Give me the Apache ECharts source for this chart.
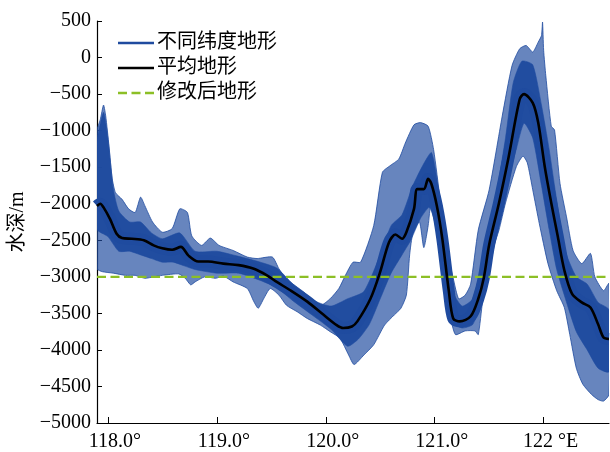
<!DOCTYPE html>
<html>
<head>
<meta charset="utf-8">
<script src="https://cdn.jsdelivr.net/npm/echarts@6/dist/echarts.min.js"></script>
<style>
  html, body { margin: 0; padding: 0; background: #fff; }
  #chart { width: 610px; height: 452px; }
</style>
</head>
<body>
<div id="chart"></div>
<script>
// 经度范围与刻度
var lonMin = 117.9;
var lonMax = 122.6;
var lonTicks = [118, 119, 120, 121, 122];

// 不同纬度地形的上包络 [经度, 水深]
var depthUpper = [
  [117.9, -1000], [117.93, -850], [117.96, -650], [117.98, -800], [118.01, -1210],
  [118.04, -1660], [118.07, -1850], [118.13, -1940], [118.19, -2070], [118.25, -2120],
  [118.3, -1910], [118.34, -2030], [118.41, -2250], [118.5, -2390], [118.59, -2340],
  [118.66, -2070], [118.73, -2120], [118.77, -2440], [118.86, -2570], [118.94, -2470],
  [119.02, -2570], [119.15, -2640], [119.28, -2730], [119.37, -2750], [119.51, -2730],
  [119.57, -2890], [119.64, -3030], [119.8, -3210], [119.95, -3390], [120.04, -3300],
  [120.12, -3160], [120.18, -2980], [120.25, -2800], [120.32, -2800], [120.44, -2300],
  [120.52, -1570], [120.59, -1480], [120.67, -1390], [120.73, -1170], [120.81, -920],
  [120.87, -890], [120.94, -940], [120.99, -1260], [121.05, -1940], [121.11, -2620],
  [121.17, -3020], [121.22, -3300], [121.28, -3250], [121.33, -3100], [121.4, -2360],
  [121.5, -1810], [121.62, -800], [121.71, -110], [121.78, 120], [121.84, 165],
  [121.9, 75], [121.95, 210], [121.98, 300], [121.99, 485], [122.0, 100],
  [122.02, -250], [122.07, -940], [122.1, -990], [122.15, -1720], [122.21, -2180],
  [122.27, -2640], [122.35, -2820], [122.43, -2680], [122.47, -3000], [122.55, -3190],
  [122.6, -3090]
];

// 不同纬度地形的下包络
var depthLower = [
  [117.9, -2890], [117.95, -2930], [118.05, -2950], [118.16, -2980], [118.25, -2980],
  [118.34, -3020], [118.42, -3000], [118.5, -2980], [118.65, -2960], [118.71, -3020],
  [118.76, -3110], [118.8, -3070], [118.89, -3000], [118.99, -3020], [119.06, -2990],
  [119.15, -3070], [119.28, -3160], [119.34, -3340], [119.38, -3430], [119.43, -3300],
  [119.49, -3160], [119.57, -3250], [119.64, -3390], [119.74, -3480], [119.83, -3570],
  [119.95, -3660], [120.04, -3750], [120.13, -3840], [120.21, -4070], [120.26, -4200],
  [120.35, -4070], [120.44, -3930], [120.54, -3660], [120.63, -3520], [120.69, -3430],
  [120.74, -3250], [120.77, -2700], [120.8, -2400], [120.86, -2250], [120.9, -2600],
  [120.94, -2300], [120.97, -1950], [121.03, -2320], [121.1, -3010], [121.14, -3510],
  [121.19, -3790], [121.28, -3740], [121.37, -3740], [121.4, -3790], [121.44, -3330],
  [121.47, -3090], [121.53, -2640], [121.59, -2360], [121.65, -1990], [121.75, -1490],
  [121.81, -1350], [121.85, -1440], [121.9, -1810], [121.96, -2270], [122.04, -2820],
  [122.12, -3190], [122.19, -3420], [122.24, -3790], [122.3, -4250], [122.36, -4470],
  [122.44, -4610], [122.5, -4680], [122.55, -4700], [122.6, -4610]
];

// 线条密集区的上、下边界
var coreUpper = [
  [117.9, -1150], [117.96, -750], [118.0, -1100], [118.05, -1800], [118.1, -2100],
  [118.2, -2250], [118.3, -2250], [118.4, -2400], [118.5, -2480], [118.66, -2400],
  [118.8, -2650], [119.0, -2650], [119.2, -2720], [119.4, -2800], [119.55, -2880],
  [119.7, -3100], [119.9, -3330], [120.05, -3400], [120.2, -3300], [120.35, -3200],
  [120.5, -2700], [120.6, -2300], [120.7, -2150], [120.8, -1750], [120.9, -1450],
  [120.97, -1300], [121.02, -1650], [121.08, -2350], [121.15, -3150], [121.25, -3400],
  [121.35, -3300], [121.45, -2700], [121.55, -2000], [121.65, -1100], [121.72, -350],
  [121.8, -50], [121.9, -100], [121.98, -650], [122.05, -1250], [122.12, -1950],
  [122.2, -2650], [122.3, -3000], [122.4, -3100], [122.5, -3350], [122.6, -3450]
];
var coreLower = [
  [117.9, -2350], [118.0, -2450], [118.1, -2650], [118.2, -2650], [118.3, -2700],
  [118.4, -2750], [118.5, -2800], [118.6, -2800], [118.7, -2850], [118.8, -2900],
  [119.0, -2950], [119.2, -2950], [119.4, -3050], [119.55, -3150], [119.7, -3330],
  [119.9, -3550], [120.05, -3720], [120.2, -3950], [120.3, -3850], [120.4, -3650],
  [120.5, -3300], [120.6, -2950], [120.7, -2700], [120.78, -2500], [120.87, -2200],
  [120.95, -2050], [121.0, -2250], [121.08, -2950], [121.15, -3600], [121.25, -3700],
  [121.35, -3650], [121.45, -3250], [121.55, -2550], [121.65, -1800], [121.75, -1250],
  [121.82, -900], [121.9, -1100], [121.98, -1750], [122.05, -2350], [122.12, -2900],
  [122.2, -3300], [122.3, -3750], [122.4, -4000], [122.5, -4250], [122.6, -4300]
];

// 平均地形
var meanDepth = [
  [117.9, -2030], [117.93, -2000], [117.96, -2050], [118.02, -2210], [118.08, -2410],
  [118.13, -2470], [118.22, -2480], [118.33, -2500], [118.42, -2570], [118.5, -2610],
  [118.59, -2630], [118.67, -2590], [118.74, -2710], [118.83, -2790], [118.92, -2790],
  [119.06, -2820], [119.2, -2840], [119.34, -2890], [119.46, -2980], [119.55, -3070],
  [119.67, -3180], [119.83, -3340], [119.98, -3520], [120.1, -3660], [120.16, -3700],
  [120.24, -3680], [120.29, -3610], [120.41, -3300], [120.5, -2930], [120.58, -2530],
  [120.64, -2420], [120.7, -2480], [120.74, -2390], [120.81, -2070], [120.84, -1800],
  [120.9, -1800], [120.94, -1660], [120.97, -1730], [121.02, -2030], [121.07, -2480],
  [121.13, -3200], [121.17, -3570], [121.23, -3610], [121.33, -3540], [121.4, -3300],
  [121.45, -3020], [121.5, -2560], [121.59, -1990], [121.68, -1350], [121.78, -570],
  [121.82, -500], [121.9, -620], [121.95, -890], [122.01, -1490], [122.07, -1990],
  [122.13, -2450], [122.19, -2910], [122.26, -3230], [122.35, -3350], [122.43, -3420],
  [122.5, -3650], [122.55, -3830], [122.6, -3850]
];

// 修改后地形
var modifiedDepth = -3000;

var blue = '#1f4b9f';
var fontNum = 'Liberation Serif, Times New Roman, serif';
var fontCn = 'Liberation Serif, Noto Sans CJK SC, serif';

function bandRender(upper, lower, fill, stroke) {
  return function (params, api) {
    var pts = [];
    upper.forEach(function (p) { pts.push(api.coord(p)); });
    for (var i = lower.length - 1; i >= 0; i--) {
      pts.push(api.coord(lower[i]));
    }
    return {
      type: 'polygon',
      shape: { points: pts, smooth: 0.2 },
      style: { fill: fill, stroke: stroke, lineWidth: 0.8 }
    };
  };
}

var myChart = echarts.init(document.getElementById('chart'), null, { renderer: 'canvas' });

var option = {
  backgroundColor: '#fff',
  animation: false,
  grid: { left: 97, right: 1, top: 21, bottom: 28, containLabel: false },
  legend: {
    left: 113,
    top: 28,
    orient: 'vertical',
    itemWidth: 36,
    itemHeight: 14,
    itemGap: 5,
    textStyle: { fontFamily: fontCn, fontSize: 20, color: '#000', padding: [0, 0, 0, -2] },
    data: [
      { name: '不同纬度地形', icon: 'path://M0,0 L36,0 L36,2.6 L0,2.6 Z', itemStyle: { color: blue } },
      { name: '平均地形', icon: 'path://M0,0 L36,0 L36,2.6 L0,2.6 Z', itemStyle: { color: '#000' } },
      { name: '修改后地形', icon: 'path://M0,0 L9,0 L9,2.6 L0,2.6 Z M13.5,0 L22.5,0 L22.5,2.6 L13.5,2.6 Z M27,0 L36,0 L36,2.6 L27,2.6 Z', itemStyle: { color: '#8cbf26' } }
    ]
  },
  xAxis: {
    type: 'value',
    min: lonMin,
    max: lonMax,
    splitLine: { show: false },
    axisLine: { onZero: false, lineStyle: { color: '#000', width: 1.2 } },
    axisTick: { inside: true, length: 6, customValues: lonTicks, lineStyle: { color: '#000' } },
    axisLabel: {
      customValues: lonTicks,
      margin: 9,
      fontFamily: fontNum,
      fontSize: 20,
      color: '#000',
      padding: [0, 0, 0, 14],
      formatter: function (v) {
        return v === 122 ? '122 °E' : v.toFixed(1) + '°';
      }
    }
  },
  yAxis: {
    type: 'value',
    min: -5000,
    max: 500,
    interval: 500,
    name: '水深/m',
    nameLocation: 'middle',
    nameGap: 69,
    nameTextStyle: { fontFamily: fontCn, fontSize: 20, color: '#000' },
    splitLine: { show: false },
    axisLine: { onZero: false, lineStyle: { color: '#000', width: 1.2 } },
    axisTick: { inside: true, length: 5, lineStyle: { color: '#000' } },
    axisLabel: {
      margin: 6,
      fontFamily: fontNum,
      fontSize: 20,
      color: '#000',
      formatter: function (v) {
        return v < 0 ? '\u2212' + Math.abs(v) : String(v);
      }
    }
  },
  series: [
    {
      name: '不同纬度地形',
      type: 'custom',
      coordinateSystem: 'cartesian2d',
      renderItem: bandRender(depthUpper, depthLower, 'rgba(31,75,159,0.68)', blue),
      data: [[lonMin, modifiedDepth]],
      clip: true,
      z: 2
    },
    {
      name: '不同纬度地形',
      type: 'custom',
      coordinateSystem: 'cartesian2d',
      renderItem: bandRender(coreUpper, coreLower, 'rgba(31,75,159,0.97)', 'rgba(31,75,159,0.7)'),
      data: [[lonMin, modifiedDepth]],
      clip: true,
      z: 3
    },
    {
      name: '核心',
      type: 'line',
      data: meanDepth,
      symbol: 'none',
      smooth: 0.3,
      lineStyle: { color: blue, width: 12 },
      z: 4
    },
    {
      name: '修改后地形',
      type: 'line',
      data: [[lonMin, modifiedDepth], [lonMax, modifiedDepth]],
      symbol: 'none',
      lineStyle: { color: '#8cbf26', width: 2.2, type: [9, 4.5] },
      z: 5
    },
    {
      name: '平均地形',
      type: 'line',
      data: meanDepth,
      symbol: 'none',
      smooth: 0.3,
      lineStyle: { color: '#000', width: 2.6 },
      z: 6
    }
  ]
};

myChart.setOption(option);
</script>
</body>
</html>
